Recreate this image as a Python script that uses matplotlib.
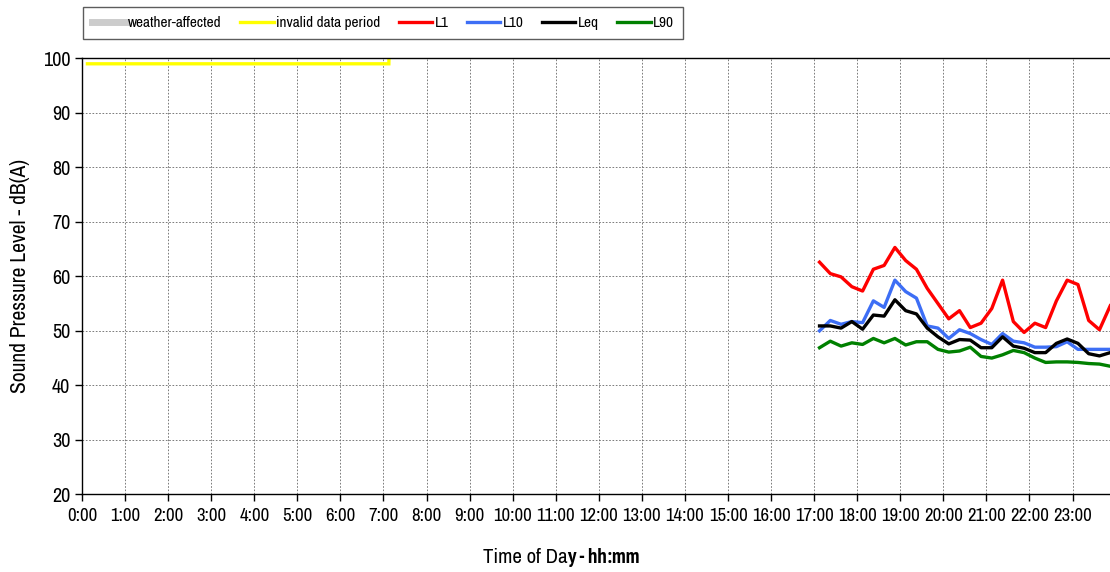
import numpy as np
import matplotlib
matplotlib.use("Agg")
import matplotlib.pyplot as plt
from matplotlib.lines import Line2D
from matplotlib import font_manager as fm

# narrow sans fonts first (the original uses Arial Narrow), first installed one wins
narrow = ['Liberation Sans Narrow', 'Arial Narrow', 'Archivo Narrow', 'PT Sans Narrow',
          'Roboto Condensed', 'Pragati Narrow', 'IBM Plex Sans Condensed', 'Fira Sans Condensed']
have = set(f.name for f in fm.fontManager.ttflist)
have_bold = set(f.name for f in fm.fontManager.ttflist
                if isinstance(f.weight, int) and f.weight >= 700 or f.weight == 'bold')
fams = [f for f in narrow if f in have][:1] + ['Liberation Sans', 'DejaVu Sans']
bold_fams = [f for f in narrow if f in have_bold][:1] + ['Liberation Sans', 'DejaVu Sans']
plt.rcParams['font.family'] = fams

# 15-minute slots (0 = 0:00-0:15 ... 95 = 23:45-24:00), points at slot centres
invalid_slots = np.arange(0, 30)
invalid_vals = [99] * 29 + [200]

meas_slots = np.arange(68, 96)  # 17:00 .. 23:45
L1 = [62.6, 60.5, 59.9, 58.1, 57.3, 61.3, 62.0, 65.3, 62.9, 61.3, 57.8, 55.0, 52.2, 53.7,
      50.6, 51.4, 54.1, 59.3, 51.7, 49.7, 51.4, 50.6, 55.5, 59.3, 58.5, 51.9, 50.2, 54.6]
L10 = [50.0, 51.9, 51.2, 51.7, 51.5, 55.5, 54.3, 59.3, 57.2, 56.0, 50.9, 50.5, 48.6, 50.2,
       49.5, 48.4, 47.5, 49.5, 48.1, 47.8, 47.0, 47.0, 47.1, 48.0, 46.6, 46.6, 46.6, 46.6]
Leq = [50.9, 50.9, 50.5, 51.7, 50.3, 52.9, 52.7, 55.7, 53.7, 53.1, 50.5, 48.9, 47.6, 48.4,
       48.3, 46.9, 46.9, 48.9, 47.2, 46.8, 46.0, 46.0, 47.7, 48.5, 47.7, 45.8, 45.4, 46.0]
L90 = [46.9, 48.1, 47.2, 47.8, 47.5, 48.6, 47.8, 48.6, 47.4, 48.0, 48.0, 46.6, 46.1, 46.3,
       47.0, 45.3, 45.0, 45.6, 46.4, 46.0, 45.0, 44.2, 44.3, 44.3, 44.2, 44.0, 43.9, 43.5]

hour_labels = ["%d:00" % h for h in range(24)]


def slot_x(slots):
    return (np.asarray(slots) + 0.5) / 4.0


fig = plt.figure(figsize=(11.1, 5.72), dpi=100)
ax = fig.add_axes([0.0739, 0.1358, 0.9265, 0.7622])

lw = 2.4
ax.plot(slot_x(invalid_slots), invalid_vals, color='#ffff00', lw=lw, solid_joinstyle='miter')
ax.plot(slot_x(meas_slots), L1, color='#ff0000', lw=lw)
ax.plot(slot_x(meas_slots), L10, color='#3d6ef5', lw=lw)
ax.plot(slot_x(meas_slots), Leq, color='black', lw=lw)
ax.plot(slot_x(meas_slots), L90, color='#008000', lw=lw)

ax.set_xlim(0, 23.88)
ax.set_ylim(20, 100)
ax.set_xticks(range(24))
ax.set_xticklabels(hour_labels, fontsize=13.5)
ax.set_yticks(range(20, 101, 10))
ax.tick_params(axis='y', labelsize=14.5, direction='out', length=5, width=1)
ax.tick_params(axis='x', direction='out', length=5, width=1, pad=5)
ax.grid(True, color='#666666', linestyle=(0, (2, 2)), linewidth=0.6)
ax.spines['right'].set_visible(False)
for s in ['left', 'bottom', 'top']:
    ax.spines[s].set_linewidth(1.0)

ax.set_ylabel("Sound Pressure Level - dB(A)", fontsize=15.5)
ax.yaxis.set_label_coords(-0.051, 0.5)

fig.text(0.511, 0.008, "Time of Da", ha='right', va='bottom', fontsize=15)
fig.text(0.511, 0.008, "y - hh:mm", ha='left', va='bottom', fontsize=15, fontweight='bold',
         family=bold_fams)

handles = [
    Line2D([], [], color='#cccccc', lw=5),
    Line2D([], [], color='#ffff00', lw=lw),
    Line2D([], [], color='#ff0000', lw=lw),
    Line2D([], [], color='#3d6ef5', lw=lw),
    Line2D([], [], color='black', lw=lw),
    Line2D([], [], color='#008000', lw=lw),
]
names = ["weather-affected", "invalid data period", "L1", "L10", "Leq", "L90"]
leg = fig.legend(handles, names, loc='upper left', bbox_to_anchor=(0.0748, 0.988), ncol=6,
                 fontsize=11, frameon=True, fancybox=False, edgecolor='#333333',
                 handlelength=2.2, handletextpad=0.15, columnspacing=1.2,
                 borderpad=0.6, borderaxespad=0)
leg.get_frame().set_linewidth(1.0)

fig.savefig("out.png", dpi=100)
